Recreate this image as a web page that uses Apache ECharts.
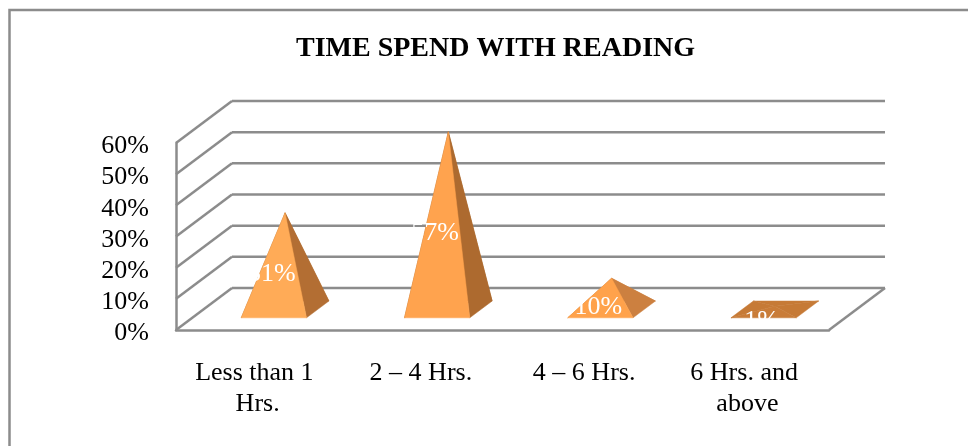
<!DOCTYPE html>
<html><head><meta charset="utf-8">
<style>html,body{margin:0;padding:0;background:#fff}#c{width:968px;height:446px}</style>
<script src="https://cdn.jsdelivr.net/npm/echarts@6/dist/echarts.min.js"></script>
</head><body><div id="c"></div>
<script>
const titleText = 'TIME SPEND WITH READING';
const categories = ['Less than 1 Hrs.', '2 – 4 Hrs.', '4 – 6 Hrs.', '6 Hrs. and above'];
const values = [31, 57, 10, 1];
const tickValues = [0, 10, 20, 30, 40, 50, 60];
const frontShades = ['#FFAB57', '#FFA34E', '#FFA24B', '#C97C38'];
const sideShades = ['#B36E33', '#AD6A2F', '#CC8040', '#C67A36'];

const font = '"Liberation Serif","Times New Roman",serif';
const gridColor = '#8C8C8C';
const lineW = 2.5;
const depthX = 56, depthY = -42, depthNear = 0.29, depthFar = 0.69, barShare = 0.4;

const chart = echarts.init(document.getElementById('c'), null, {renderer: 'canvas'});

function wallItem(params, api) {
  const cs = params.coordSys;
  const y = api.coord([0, api.value(0)])[1];
  const left = cs.x, right = cs.x + cs.width;
  const children = [
    {type: 'line', shape: {x1: left, y1: y, x2: left + depthX, y2: y + depthY}, style: {stroke: gridColor, lineWidth: lineW}},
    {type: 'line', shape: {x1: left + depthX, y1: y + depthY, x2: right + depthX, y2: y + depthY}, style: {stroke: gridColor, lineWidth: lineW}}
  ];
  if (api.value(0) === 0) {
    children.push({type: 'line', shape: {x1: right, y1: y, x2: right + depthX, y2: y + depthY}, style: {stroke: gridColor, lineWidth: lineW}});
  }
  return {type: 'group', children};
}

function pyramidItem(params, api) {
  const i = api.value(0), v = api.value(1);
  const base = api.coord([i, 0]), top = api.coord([i, v]), half = api.coord([i, v / 2]);
  const hw = api.size([1, 0])[0] * barShare / 2;
  const nx = base[0] + depthX * depthNear, ny = base[1] + depthY * depthNear;
  const fx = base[0] + depthX * depthFar, fy = base[1] + depthY * depthFar;
  const mid = (depthNear + depthFar) / 2;
  const apex = [top[0] + depthX * mid, top[1] + depthY * mid];
  const fl = [nx - hw, ny], fr = [nx + hw, ny], bl = [fx - hw, fy], br = [fx + hw, fy];
  const face = (pts, fill) => ({type: 'polygon', shape: {points: pts}, style: {fill, stroke: fill, lineWidth: 0.5}});
  return {type: 'group', children: [
    face([bl, br, apex], sideShades[i]),
    face([fl, bl, apex], sideShades[i]),
    face([fr, br, apex], sideShades[i]),
    face([fl, fr, apex], frontShades[i]),
    {type: 'text', x: nx - 2, y: half[1] + depthY * depthNear + 4.5, z2: 10,
      style: {text: v + '%', fill: '#FFFFFF', font: '26px ' + font, align: 'center', verticalAlign: 'middle'}}
  ]};
}

chart.setOption({
  animation: false,
  backgroundColor: '#FFFFFF',
  title: {text: titleText, left: 296, top: 35, padding: 0,
    textStyle: {fontFamily: font, fontWeight: 'bold', fontSize: 28, color: '#000'}},
  grid: {left: 176, right: 139, top: 143, height: 187, containLabel: false},
  xAxis: {type: 'category', data: categories,
    axisLine: {lineStyle: {color: gridColor, width: lineW}}, axisTick: {show: false},
    axisLabel: {interval: 0, color: '#000', fontFamily: font, fontSize: 26, margin: 28, lineHeight: 31, width: 150, overflow: 'break'}},
  yAxis: {type: 'value', min: 0, max: 60, interval: 10,
    axisLine: {show: true, lineStyle: {color: gridColor, width: lineW}}, axisTick: {show: false}, splitLine: {show: false},
    axisLabel: {color: '#000', margin: 27, formatter: '{t|{value}%}',
      rich: {t: {fontFamily: font, fontSize: 26, color: '#000', padding: [7, 0, 0, 0]}}}},
  graphic: [
    {type: 'polyline', silent: true, shape: {points: [[9.5, 446], [9.5, 10], [968, 10]]}, style: {stroke: '#8C8C8C', fill: null, lineWidth: 2.5}}
  ],
  series: [
    {type: 'custom', renderItem: wallItem, data: tickValues.map(t => [t]), encode: {y: 0}, z: 1, silent: true},
    {type: 'custom', renderItem: pyramidItem, data: values.map((v, i) => [i, v]), encode: {x: 0, y: 1}, z: 3, silent: true}
  ]
});
</script></body></html>
